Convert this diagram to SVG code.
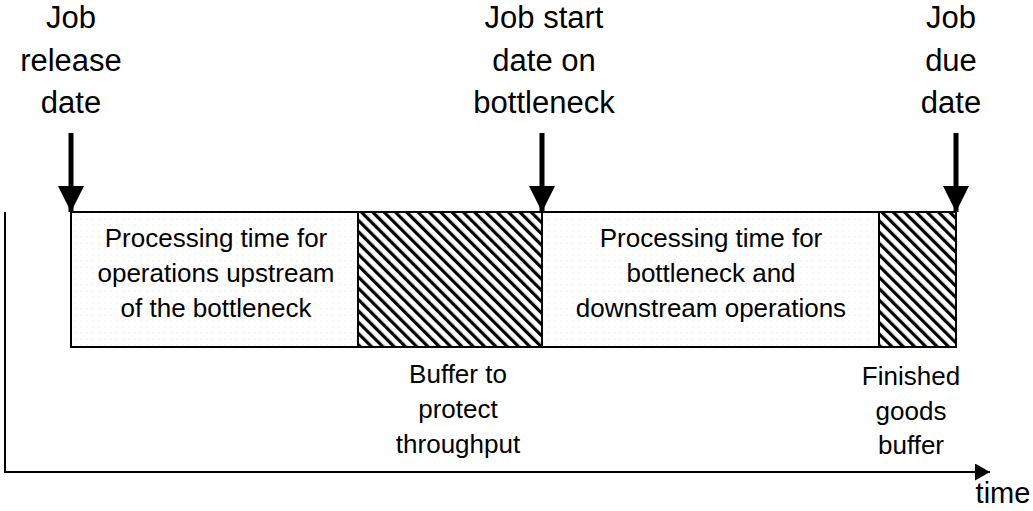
<svg xmlns="http://www.w3.org/2000/svg" width="1033" height="511" viewBox="0 0 1033 511">
<style>
.big{font-family:"Liberation Sans",Arial,sans-serif;font-size:31px;fill:#000;text-anchor:middle}
.mid{font-family:"Liberation Sans",Arial,sans-serif;font-size:26px;fill:#000;text-anchor:middle}
.box{stroke:#000;stroke-width:2}
.arr{stroke:#000;stroke-width:5;fill:none}
</style>
<defs>
<pattern id="dots" width="6" height="6" patternUnits="userSpaceOnUse">
<rect width="6" height="6" fill="#fff"/>
<circle cx="3" cy="3" r="0.8" fill="#ecece4"/>
</pattern>
<pattern id="hatch" width="8" height="8" patternUnits="userSpaceOnUse" patternTransform="rotate(-45)">
<rect width="8" height="8" fill="#fff"/>
<rect width="3.2" height="8" fill="#000"/>
</pattern>
<marker id="head" viewBox="0 0 10 10" refX="10" refY="5" markerWidth="5.2" markerHeight="5.2" orient="auto" markerUnits="strokeWidth">
<path d="M0,0 L10,5 L0,10 Z" fill="#000"/>
</marker>
<marker id="head2" viewBox="0 0 10 10" refX="10" refY="5" markerWidth="7.5" markerHeight="8.5" orient="auto" markerUnits="strokeWidth" preserveAspectRatio="none">
<path d="M0,0 L10,5 L0,10 Z" fill="#000"/>
</marker>
</defs>

<g id="labels-top">
<text class="big" x="71" y="28">Job</text>
<text class="big" x="71" y="71">release</text>
<text class="big" x="71" y="113">date</text>
<text class="big" x="544" y="28">Job start</text>
<text class="big" x="544" y="71">date on</text>
<text class="big" x="544" y="113">bottleneck</text>
<text class="big" x="951" y="28">Job</text>
<text class="big" x="951" y="71">due</text>
<text class="big" x="951" y="113">date</text>
</g>

<g id="seg-upstream">
<rect class="box" x="71" y="212" width="287" height="135" fill="url(#dots)"/>
<text class="mid" x="216" y="247">Processing time for</text>
<text class="mid" x="216" y="282">operations upstream</text>
<text class="mid" x="216" y="317">of the bottleneck</text>
</g>
<g id="seg-buffer">
<rect class="box" x="358" y="212" width="184" height="135" fill="url(#hatch)"/>
<text class="mid" x="458" y="383">Buffer to</text>
<text class="mid" x="458" y="418">protect</text>
<text class="mid" x="458" y="453">throughput</text>
</g>
<g id="seg-downstream">
<rect class="box" x="542" y="212" width="337" height="135" fill="url(#dots)"/>
<text class="mid" x="711" y="247">Processing time for</text>
<text class="mid" x="711" y="282">bottleneck and</text>
<text class="mid" x="711" y="317">downstream operations</text>
</g>
<g id="seg-fg">
<rect class="box" x="879" y="212" width="77" height="135" fill="url(#hatch)"/>
<text class="mid" x="911" y="385">Finished</text>
<text class="mid" x="911" y="420">goods</text>
<text class="mid" x="911" y="454">buffer</text>
</g>

<g id="connectors">
<line class="arr" x1="71" y1="133" x2="71" y2="212" marker-end="url(#head)"/>
<line class="arr" x1="542" y1="133" x2="542" y2="212" marker-end="url(#head)"/>
<line class="arr" x1="956" y1="133" x2="956" y2="212" marker-end="url(#head)"/>
<path d="M5,212 V472 H990" stroke="#000" stroke-width="2" fill="none" marker-end="url(#head2)"/>
</g>
<text class="big" x="1003" y="503" style="font-size:29px">time</text>
</svg>
